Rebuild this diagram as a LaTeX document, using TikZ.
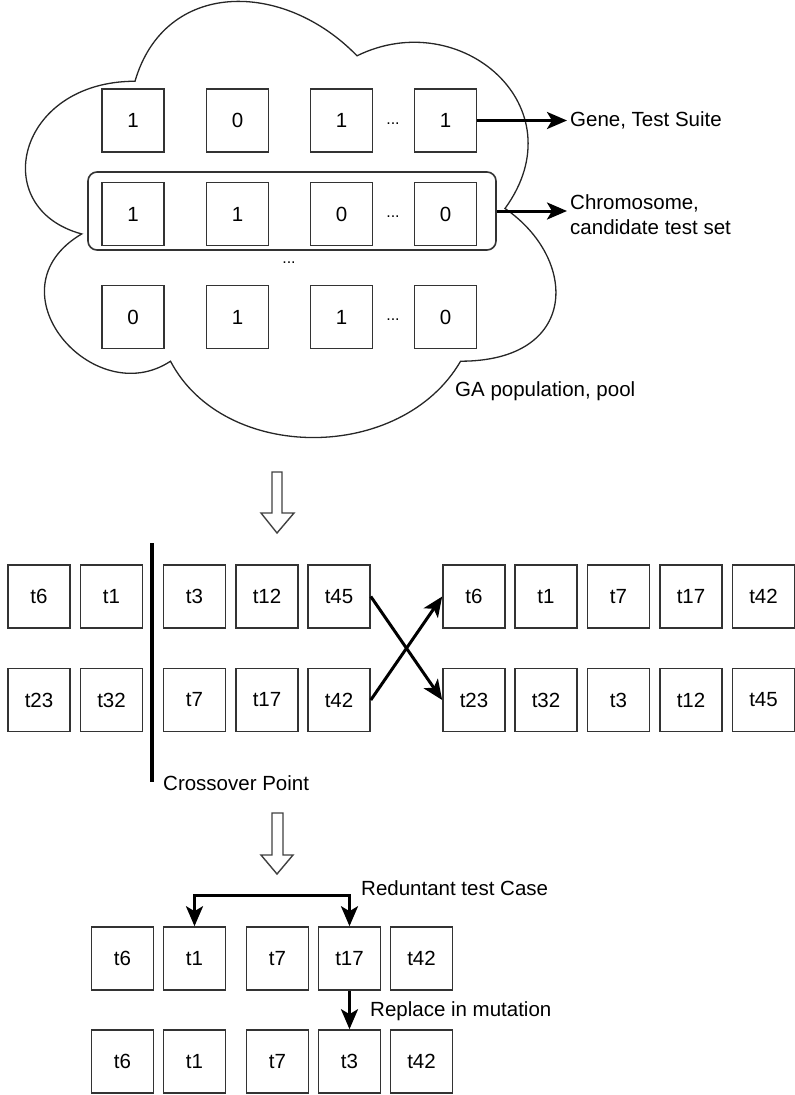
\documentclass[tikz,border=0pt]{standalone}
\usepackage{fontspec}
\setmainfont{Liberation Sans}
\usetikzlibrary{arrows.meta}
\begin{document}
\begin{tikzpicture}[x=1pt,y=-1pt,
  box/.style={draw=black!80, line width=1.6pt, minimum width=62pt, minimum height=63pt, inner sep=0pt, font=\fontsize{20.5}{24}\selectfont},
  lbl/.style={inner sep=0pt, anchor=west, align=left, font=\fontsize{20.5}{25}\selectfont},
  dots/.style={inner sep=0pt, font=\fontsize{16}{18}\selectfont},
  bigtip/.tip={Stealth[length=20pt,width=17pt,inset=5pt]},
  conn/.style={line width=3pt, -bigtip},
  hollow/.style={draw=black!75, line width=1.4pt, fill=white, line join=miter}
]
\path[use as bounding box] (0,0) rectangle (795,1095);
% cloud
\draw[black!85, line width=1.3pt] (135,81.25)
  .. controls (16.6,81.25) and (-13,208.5) .. (81.7,233.95)
  .. controls (-13,289.9) and (93.6,412.1) .. (170.5,361.2)
  .. controls (223.8,463) and (401.4,463) .. (460.6,361.2)
  .. controls (579,361.2) and (579,259.4) .. (505,208.5)
  .. controls (579,106.7) and (460.6,4.9) .. (357,55.8)
  .. controls (283,-20.55) and (164.6,-20.55) .. (135,81.25) -- cycle;
% chromosome frame
\node[draw=black!80, line width=1.6pt, rounded corners=9pt, minimum width=408pt, minimum height=78pt, inner sep=0pt] (chrom) at (292,211) {};
% population rows
\node[box] (a1) at (133,120.5) {1};
\node[box] (a2) at (237.5,120.5) {0};
\node[box] (a3) at (341.5,120.5) {1};
\node[box] (a4) at (445.5,120.5) {1};
\node[dots] (ad) at (393,124) {...};
\node[box] (b1) at (133,214) {1};
\node[box] (b2) at (237.5,214) {1};
\node[box] (b3) at (341.5,214) {0};
\node[box] (b4) at (445.5,214) {0};
\node[dots] (bd) at (393,217) {...};
\node[dots] (md) at (289,263) {...};
\node[box] (c1) at (133,317) {0};
\node[box] (c2) at (237.5,317) {1};
\node[box] (c3) at (341.5,317) {1};
\node[box] (c4) at (445.5,317) {0};
\node[dots] (cd) at (393,320) {...};
% labels
\node[lbl] (gene) at (570,120.5) {Gene, Test Suite};
\node[lbl] (chl) at (570,215) {Chromosome,\\candidate test set};
\node[lbl] (ga) at (455,391) {GA population, pool};
\draw[conn] (a4.east) -- ([xshift=-3pt]gene.west);
\draw[conn] (chrom.east) -- ([xshift=-3pt]chrom.east -| chl.west);
% hollow arrow 1
\draw[hollow] (272,472) -- (282,472) -- (282,513) -- (294,513) -- (277,533) -- (261,513) -- (272,513) -- cycle;
% crossover rows
\node[box] (p1) at (39,596.5) {t6};
\node[box] (p2) at (111.5,596.5) {t1};
\node[box] (p3) at (194.5,596.5) {t3};
\node[box] (p4) at (267,596.5) {t12};
\node[box] (p5) at (339,596.5) {t45};
\node[box] (q1) at (39,700) {t23};
\node[box] (q2) at (111.5,700) {t32};
\node[box] (q3) at (194.5,700) {t7};
\node[box] (q4) at (267,700) {t17};
\node[box] (q5) at (339,700) {t42};
\node[box] (r1) at (474,596.5) {t6};
\node[box] (r2) at (546,596.5) {t1};
\node[box] (r3) at (618.5,596.5) {t7};
\node[box] (r4) at (691,596.5) {t17};
\node[box] (r5) at (763.5,596.5) {t42};
\node[box] (s1) at (474,700) {t23};
\node[box] (s2) at (546,700) {t32};
\node[box] (s3) at (618.5,700) {t3};
\node[box] (s4) at (691,700) {t12};
\node[box] (s5) at (763.5,700) {t45};
\coordinate (xt) at (152,543);
\coordinate (xb) at (152,782);
\draw[line width=3.5pt] (xt) -- (xb);
\node[lbl] (xl) at (163,783) {Crossover Point};
\draw[conn] (p5.east) -- (s1.west);
\draw[conn] (q5.east) -- (r1.west);
% hollow arrow 2
\draw[hollow] (272,813) -- (283,813) -- (283,855) -- (293,855) -- (277,874) -- (261,855) -- (272,855) -- cycle;
% mutation rows
\node[box] (m1) at (122.5,958.5) {t6};
\node[box] (m2) at (194.5,958.5) {t1};
\node[box] (m3) at (277.5,958.5) {t7};
\node[box] (m4) at (349.5,958.5) {t17};
\node[box] (m5) at (421.5,958.5) {t42};
\node[box] (n1) at (122.5,1061.5) {t6};
\node[box] (n2) at (194.5,1061.5) {t1};
\node[box] (n3) at (277.5,1061.5) {t7};
\node[box] (n4) at (349.5,1061.5) {t3};
\node[box] (n5) at (421.5,1061.5) {t42};
\draw[line width=3pt, bigtip-bigtip] (m2.north) -- ++(0,-31) -| (m4.north);
\node[lbl] (red) at (361,888) {Reduntant test Case};
\draw[conn] (m4.south) -- (n4.north);
\node[lbl] (rep) at (370,1011) {Replace in mutation};
\end{tikzpicture}
\end{document}
